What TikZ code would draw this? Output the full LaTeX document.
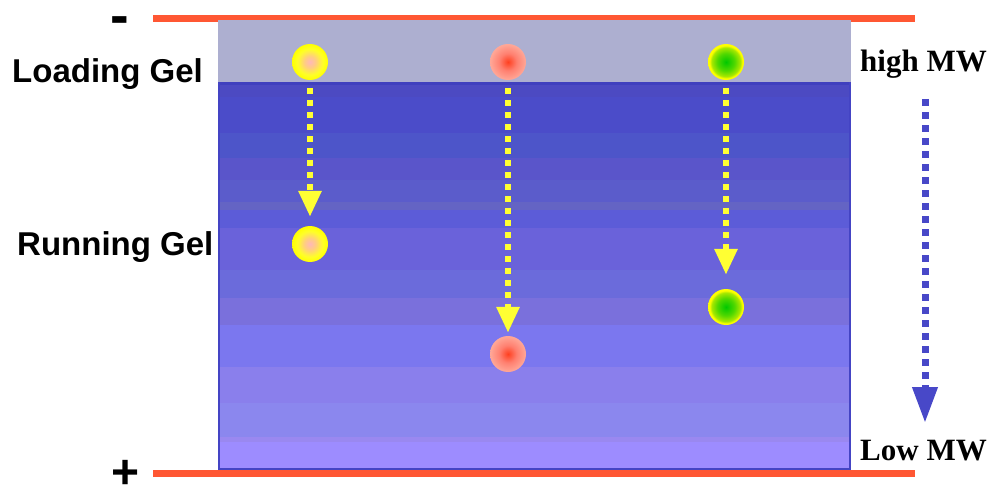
\documentclass[tikz,border=0pt]{standalone}
\usepackage{fontspec}
\setmainfont{Liberation Sans}
\newfontfamily\serifb{Liberation Serif}
\usetikzlibrary{arrows.meta}
\definecolor{loadgel}{HTML}{ADAFD0}
\definecolor{gelborder}{HTML}{4444C4}
\definecolor{electrode}{HTML}{FF5733}
\definecolor{dotyellow}{HTML}{FFFF33}
\definecolor{mwblue}{HTML}{4848C8}
\definecolor{dotpink}{HTML}{FFB8B8}
\definecolor{redcore}{HTML}{FF4020}
\definecolor{redmid}{HTML}{FF8070}
\definecolor{redrim}{HTML}{FFA898}
\definecolor{greencore}{HTML}{00C800}
\definecolor{greenmid}{HTML}{50D800}
\definecolor{greenrim}{HTML}{A8E800}
\pgfdeclareradialshading{yellowdot}{\pgfpoint{0bp}{0bp}}{color(0bp)=(dotpink); color(8bp)=(dotpink!70!yellow); color(18bp)=(yellow!85!white); color(25bp)=(yellow); color(50bp)=(yellow)}
\pgfdeclareradialshading{reddot}{\pgfpoint{0bp}{0bp}}{color(0bp)=(redcore); color(12bp)=(redmid); color(25bp)=(redrim); color(50bp)=(redrim)}
\pgfdeclareradialshading{greendot}{\pgfpoint{0bp}{0bp}}{color(0bp)=(greencore); color(12bp)=(greenmid); color(20bp)=(greenrim); color(23bp)=(yellow); color(50bp)=(yellow)}
\tikzset{
  dotnode/.style={circle, minimum size=36pt, inner sep=0pt, shade, shading=#1},
  lbl/.style={font=\fontsize{33}{36}\selectfont\bfseries, inner sep=0pt},
  mwlbl/.style={font=\serifb\bfseries\fontsize{31}{34}\selectfont, inner sep=0pt},
  minuslbl/.style={font=\fontsize{56}{56}\selectfont\bfseries, inner sep=0pt},
  pluslbl/.style={font=\fontsize{48}{48}\selectfont\bfseries, inner sep=0pt},
  migr/.style={draw=dotyellow, line width=6pt, dash pattern=on 6pt off 6pt,
    -{Triangle[width=22pt,length=26pt]}},
  mwarrow/.style={draw=mwblue, line width=7pt, dash pattern=on 7pt off 6pt,
    -{Triangle[width=24pt,length=36pt]}},
  electrodeline/.style={draw=electrode, line width=7pt}
}
\begin{document}
\begin{tikzpicture}[x=1pt,y=-1pt]
\useasboundingbox (0,0) rectangle (994,487);
% electrodes
\draw[electrodeline] (153,19) -- (915,19);
\draw[electrodeline] (153,473.5) -- (915,473.5);
% gel
\fill[loadgel] (218,20) rectangle (851,82);
\foreach \a/\b/\c in {82/85/4040BE, 85/97/4C4AC2, 97/133/4B4CC9, 133/158/4D55C9,
  158/180/5A55CA, 180/202/5B5CCB, 202/210/6464C4, 210/228/5C5CD8, 228/270/6A62DA,
  270/298/6B6BDB, 298/325/7A70DC, 325/367/7B77EF, 367/403/8A7FEC, 403/437/8B87EE,
  437/442/9A88F0, 442/469/9D8CFF}{
  \definecolor{bandcol}{HTML}{\c}
  \fill[bandcol] (218,\a) rectangle (851,\b);
}
\draw[gelborder, line width=2pt] (219,82) -- (219,469) -- (850,469) -- (850,82);
% signs
\node[minuslbl, anchor=base] (minus) at (119.5,35) {-};
\node[pluslbl, anchor=base] (plus) at (126,488) {+};
% labels
\node[lbl, anchor=base west] (load) at (12,83) {Loading Gel};
\node[lbl, anchor=base west] (run) at (17,255) {Running Gel};
\node[mwlbl, anchor=base west] (hi) at (860,71) {high MW};
\node[mwlbl, anchor=base west] (lo) at (860,460) {Low MW};
% bands
\node[dotnode=yellowdot] (yA) at (310,62) {};
\node[dotnode=reddot] (rA) at (508,62) {};
\node[dotnode=greendot] (gA) at (726,62) {};
\node[dotnode=yellowdot] (yB) at (310,244) {};
\node[dotnode=reddot] (rB) at (508,354) {};
\node[dotnode=greendot] (gB) at (726,307) {};
% migration arrows
\draw[migr, shorten <=8pt, shorten >=9pt] (yA) -- (yB);
\draw[migr, shorten <=8pt, shorten >=3pt] (rA) -- (rB);
\draw[migr, shorten <=8pt, shorten >=14pt] (gA) -- (gB);
% MW arrow
\coordinate (mwtop) at (925,99);
\coordinate (mwbot) at (925,423);
\draw[mwarrow] (mwtop) -- (mwbot);
\end{tikzpicture}
\end{document}
